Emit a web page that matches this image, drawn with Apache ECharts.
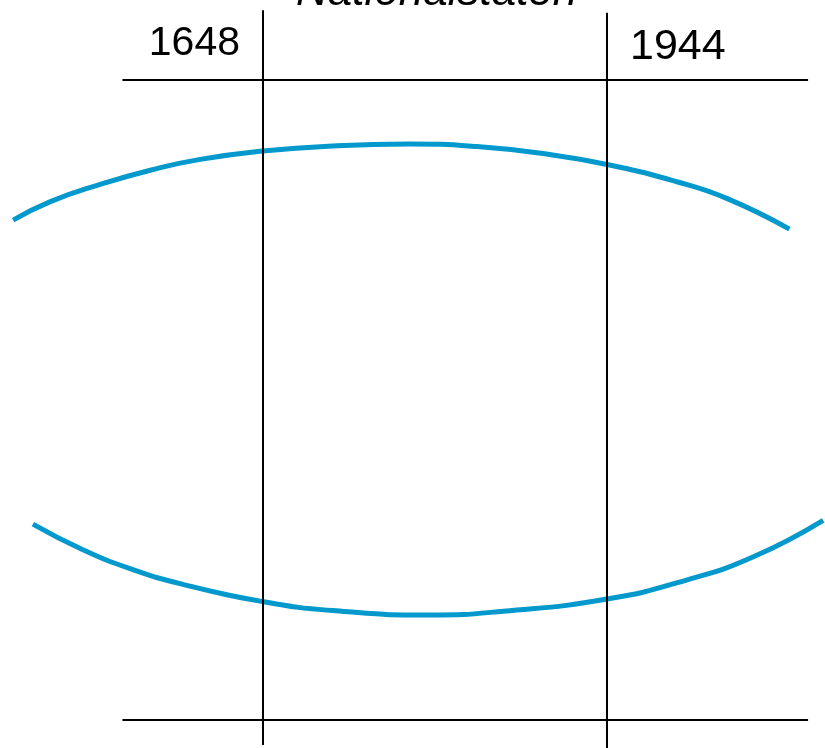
<!DOCTYPE html>
<html>
<head>
<meta charset="utf-8">
<script src="https://cdn.jsdelivr.net/npm/echarts@6/dist/echarts.min.js"></script>
<style>
  html, body { margin: 0; padding: 0; background: #fff; }
  #chart { width: 825px; height: 748px; }
</style>
</head>
<body>
<div id="chart"></div>
<script>
// years marking the two epochs
const yearMarks = [1648, 1944]
const titleText = 'Nationalstaten'

// upper arc (year, level)
const upperYears = [1433, 1465, 1508, 1551, 1594, 1648, 1708, 1774, 1832, 1889, 1944, 2004, 2047, 2101]
const upperLevel = [78.1, 81.0, 83.7, 85.9, 87.6, 88.9, 89.7, 90.0, 89.6, 88.5, 86.8, 84.1, 81.5, 76.7]

// lower arc (year, level)
const lowerYears = [1450, 1493, 1536, 1579, 1648, 1708, 1792, 1855, 1944, 2013, 2070, 2130]
const lowerLevel = [30.6, 26.6, 23.5, 21.2, 18.5, 17.1, 16.4, 17.0, 18.9, 21.9, 25.5, 31.2]

// horizontal rules
const ruleStart = 1527
const ruleEnd = 2117
const ruleLevels = [100, 0]
// vertical line extents (level)
const vTop = [110.9, 110.5]
const vBottom = [-3.9, -4.4]

const blue = '#0399cc'
const ink = '#000'

const chart = echarts.init(document.getElementById('chart'))

const series = []

series.push({
  type: 'line', smooth: 0.5, showSymbol: false, silent: true,
  data: upperYears.map((y, i) => [y, upperLevel[i]]),
  lineStyle: {color: blue, width: 5}
})
series.push({
  type: 'line', smooth: 0.5, showSymbol: false, silent: true,
  data: lowerYears.map((y, i) => [y, lowerLevel[i]]),
  lineStyle: {color: blue, width: 5}
})

ruleLevels.forEach(lv => {
  series.push({
    type: 'line', showSymbol: false, silent: true,
    data: [[ruleStart, lv], [ruleEnd, lv]],
    lineStyle: {color: ink, width: 2.2}
  })
})

yearMarks.forEach((yr, i) => {
  series.push({
    type: 'line', showSymbol: false, silent: true,
    data: [[yr, vTop[i]], [yr, vBottom[i]]],
    lineStyle: {color: ink, width: 2}
  })
})

// year labels beside the vertical lines
series.push({
  type: 'scatter', symbolSize: 0, silent: true,
  itemStyle: {opacity: 1},
  data: yearMarks.map((yr, i) => ({
    value: [yr, ruleLevels[0]],
    label: {
      show: true,
      opacity: 1,
      formatter: String(yr),
      position: i === 0 ? [-23, -36] : [23, -33],
      align: i === 0 ? 'right' : 'left',
      verticalAlign: 'middle',
      fontSize: i === 0 ? 41 : 43,
      color: ink,
      fontFamily: 'Liberation Sans, Arial, sans-serif'
    }
  }))
})

chart.setOption({
  animation: false,
  backgroundColor: '#fff',
  title: {
    text: titleText,
    left: 291,
    top: -34,
    textStyle: {
      fontSize: 44,
      fontStyle: 'italic',
      fontWeight: 'normal',
      color: ink,
      fontFamily: 'Liberation Sans, Arial, sans-serif'
    }
  },
  grid: {left: 0, right: 0, top: 0, bottom: 0},
  xAxis: {
    type: 'value', min: 1421.7, max: 2131.58, show: false
  },
  yAxis: {
    type: 'value', min: -4.375, max: 112.5, show: false
  },
  series: series
})
</script>
</body>
</html>
